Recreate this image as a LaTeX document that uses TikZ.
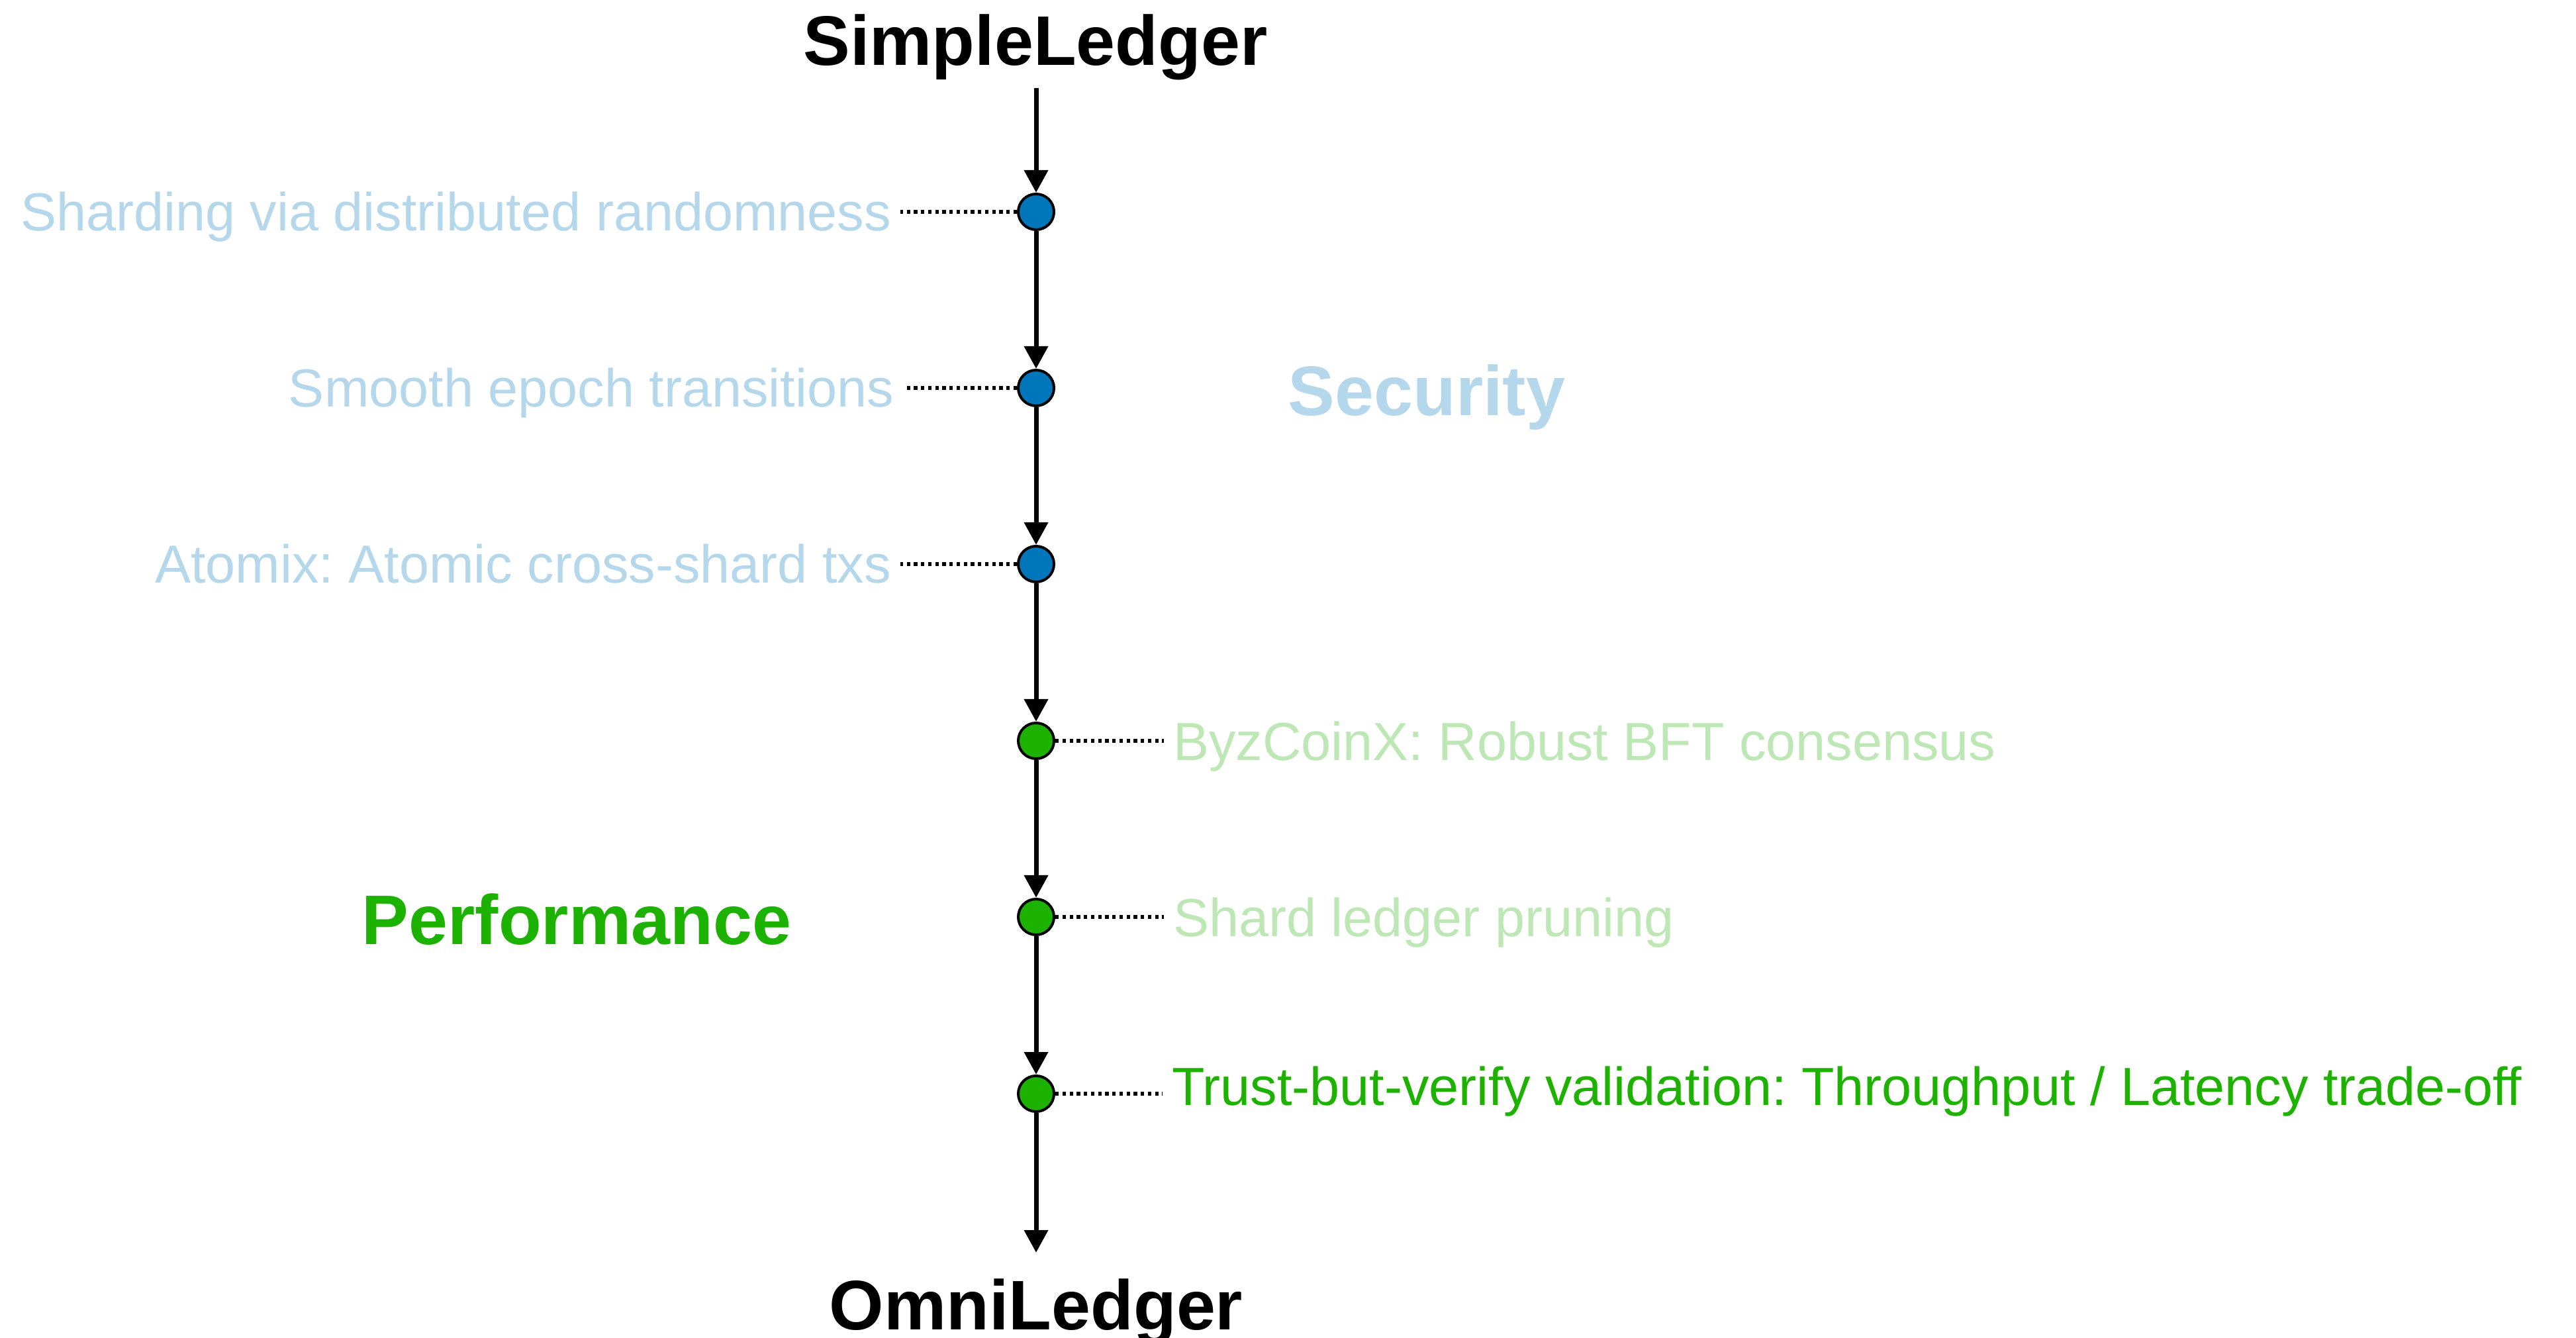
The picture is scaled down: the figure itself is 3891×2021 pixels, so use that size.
\documentclass[tikz,border=0pt]{standalone}
\usepackage{fontspec}
\setmainfont{Liberation Sans}
\frenchspacing
\usetikzlibrary{arrows.meta}
\definecolor{lblue}{RGB}{181,215,235}
\definecolor{dblue}{RGB}{0,118,186}
\definecolor{dgreen}{RGB}{29,177,0}
\definecolor{lgreen}{RGB}{189,232,181}
\begin{document}
\begin{tikzpicture}[x=0.2pt,y=-0.2pt,
  title/.style={inner sep=0pt,anchor=base,font=\fontsize{21.2pt}{25pt}\selectfont\bfseries},
  lab/.style={inner ysep=0pt,inner xsep=2.6pt,font=\fontsize{16.2pt}{19pt}\selectfont\frenchspacing},
  milestone/.style={circle,draw=black,line width=0.8pt,minimum size=10.8pt,inner sep=0pt},
  flow/.style={line width=1.4pt,-{Triangle[length=6.8pt,width=7pt]}},
  dots/.style={line width=1.15pt,dash pattern=on 1.05pt off 1.1pt}]
\useasboundingbox (0,0) rectangle (3891,2021);
\node[title] (simple) at (1564,99) {SimpleLedger};
\node[title] (omni) at (1565,2008) {OmniLedger};
\node[title,text=lblue] (sec) at (2155,628) {Security};
\node[title,text=dgreen] (perf) at (871,1427) {Performance};
\coordinate (start) at (1565,133);
\coordinate (finish) at (1565,1892);
\node[milestone,fill=dblue] (c1) at (1565,320) {};
\node[milestone,fill=dblue] (c2) at (1565,586) {};
\node[milestone,fill=dblue] (c3) at (1565,852) {};
\node[milestone,fill=dgreen] (c4) at (1565,1119) {};
\node[milestone,fill=dgreen] (c5) at (1565,1385) {};
\node[milestone,fill=dgreen] (c6) at (1565,1652) {};
\node[lab,anchor=base east,text=lblue] (l1) at (1360,349) {Sharding via distributed randomness};
\node[lab,anchor=base east,text=lblue] (l2) at (1364,615) {Smooth epoch transitions};
\node[lab,anchor=base east,text=lblue] (l3) at (1360,881) {Atomix: Atomic cross-shard txs};
\node[lab,anchor=base west,text=lgreen] (l4) at (1758,1149) {ByzCoinX: Robust BFT consensus};
\node[lab,anchor=base west,text=lgreen] (l5) at (1758,1414) {Shard ledger pruning};
\node[lab,anchor=base west,text=dgreen] (l6) at (1756,1669) {Trust-but-verify validation: Throughput / Latency trade-off};
\draw[flow] (start) -- (c1);
\draw[flow] (c1) -- (c2);
\draw[flow] (c2) -- (c3);
\draw[flow] (c3) -- (c4);
\draw[flow] (c4) -- (c5);
\draw[flow] (c5) -- (c6);
\draw[flow] (c6) -- (finish);
\draw[dots] (c1.west) -- (l1.east |- c1);
\draw[dots] (c2.west) -- (l2.east |- c2);
\draw[dots] (c3.west) -- (l3.east |- c3);
\draw[dots] (c4.east) -- (l4.west |- c4);
\draw[dots] (c5.east) -- (l5.west |- c5);
\draw[dots] (c6.east) -- (l6.west |- c6);
\end{tikzpicture}
\end{document}
